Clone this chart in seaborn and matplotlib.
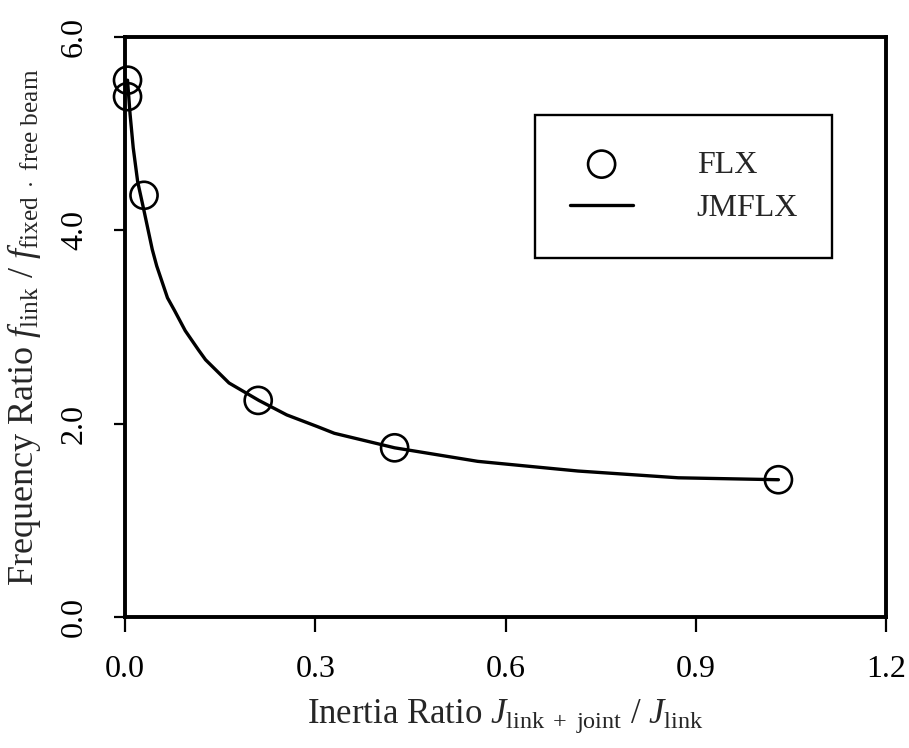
import matplotlib
matplotlib.use("Agg")
import matplotlib.pyplot as plt
import seaborn as sns
import pandas as pd

# FLX measured points
flx_x = [0.004, 0.004, 0.03, 0.21, 0.425, 1.03]
flx_y = [5.55, 5.38, 4.36, 2.24, 1.75, 1.42]

# JMFLX curve
jm_x = [0.004, 0.008, 0.013, 0.020, 0.030, 0.043, 0.050, 0.067, 0.078, 0.095,
        0.116, 0.127, 0.164, 0.211, 0.255, 0.303, 0.33, 0.425, 0.556, 0.714,
        0.872, 1.03]
jm_y = [5.55, 5.20, 4.85, 4.50, 4.20, 3.80, 3.63, 3.30, 3.17, 2.96,
        2.76, 2.66, 2.42, 2.24, 2.09, 1.97, 1.90, 1.75, 1.61, 1.51,
        1.44, 1.42]

x_ticks = [0.0, 0.3, 0.6, 0.9, 1.2]
y_ticks = [0.0, 2.0, 4.0, 6.0]

sns.set_style("ticks")
plt.rcParams["font.family"] = ["Liberation Serif", "DejaVu Serif"]
plt.rcParams["mathtext.fontset"] = "custom"
plt.rcParams["mathtext.rm"] = "Liberation Serif"
plt.rcParams["mathtext.it"] = "Liberation Serif:italic"
plt.rcParams["mathtext.bf"] = "Liberation Serif:bold"

fig = plt.figure(figsize=(9.09, 7.48), dpi=100)
ax = fig.add_axes([0.1375, 0.175, 0.8375, 0.776])

df_curve = pd.DataFrame({"x": jm_x, "y": jm_y})
df_pts = pd.DataFrame({"x": flx_x, "y": flx_y})

sns.lineplot(data=df_curve, x="x", y="y", ax=ax, color="black", linewidth=2.4,
             label="JMFLX", sort=False, zorder=2)
sns.scatterplot(data=df_pts, x="x", y="y", ax=ax, s=380, marker="o",
                facecolor="none", edgecolor="black", linewidth=1.9,
                label="FLX", zorder=3, clip_on=False)

ax.set_xlim(0, 1.2)
ax.set_ylim(0, 6)
ax.set_xticks(x_ticks)
ax.set_yticks(y_ticks)
ax.set_xticklabels([f"{v:.1f}" for v in x_ticks])
ax.set_yticklabels([f"{v:.1f}" for v in y_ticks], rotation=90, va="center")

for sp in ax.spines.values():
    sp.set_linewidth(2.8)
    sp.set_color("black")
    sp.set_visible(True)

ax.tick_params(axis="x", direction="out", length=11, width=1.6, pad=16,
               labelsize=23, colors="black")
ax.tick_params(axis="y", direction="out", length=8, width=1.6, pad=18,
               labelsize=23, colors="black")

ax.set_xlabel(r"Inertia Ratio $J_{\mathrm{link\ +\ joint}}$ / $J_{\mathrm{link}}$",
              fontsize=25, labelpad=10)
ax.set_ylabel(r"Frequency Ratio $f_{\mathrm{link}}$ / $f_{\mathrm{fixed\ \cdot\ free\ beam}}$",
              fontsize=26, labelpad=12)

handles, labels = ax.get_legend_handles_labels()
order = [labels.index("FLX"), labels.index("JMFLX")]
leg = ax.legend([handles[i] for i in order], [labels[i] for i in order],
                loc="upper left", bbox_to_anchor=(0.539, 0.5, 0.390, 0.365),
                mode="expand", fontsize=23, frameon=True, fancybox=False,
                shadow=False, handlelength=1.95, handletextpad=2.0,
                borderpad=1.1, labelspacing=0.45, borderaxespad=0)
leg.get_frame().set_edgecolor("black")
leg.get_frame().set_linewidth(1.7)
leg.get_frame().set_alpha(1)

fig.savefig("out.png", dpi=100)
